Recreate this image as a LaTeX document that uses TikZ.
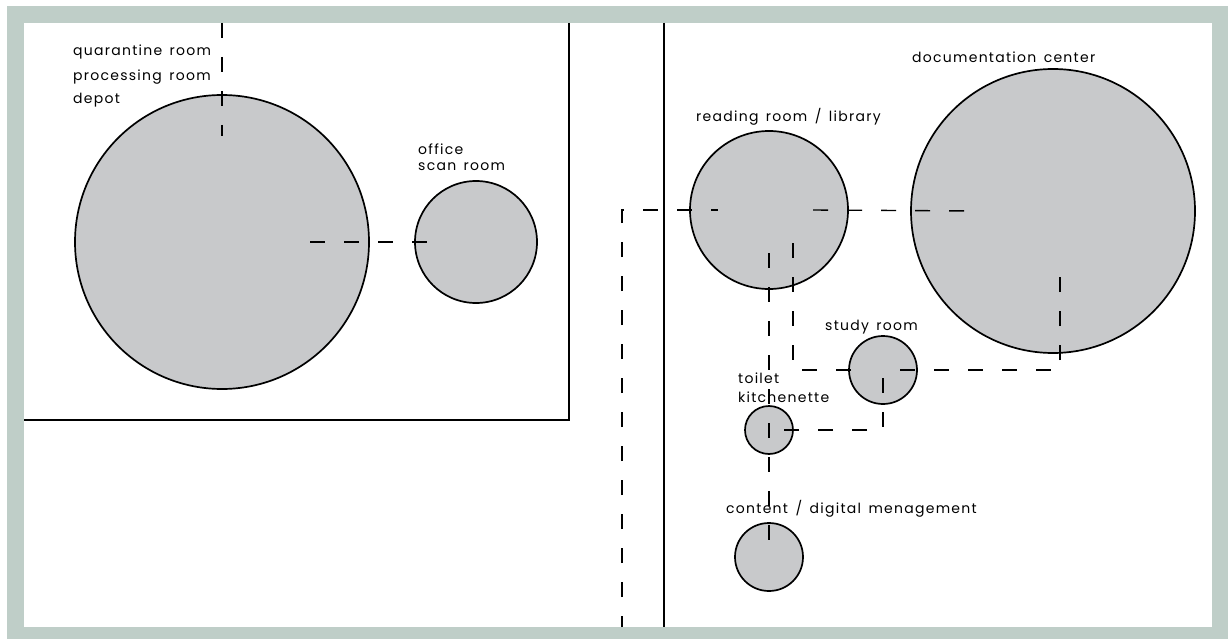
\documentclass[tikz,border=0pt]{standalone}
\usepackage{fontspec}
\usepackage{tikz}
\usetikzlibrary{positioning}
\newfontfamily\planfont{Poppins}[LetterSpace=9, WordSpace=1.5]
\definecolor{framegreen}{RGB}{191,206,200}
\definecolor{roomgrey}{RGB}{200,201,203}

\begin{document}
\begin{tikzpicture}[x=1pt, y=-1pt,
    room/.style={circle, draw, line width=1.7pt, fill=roomgrey, inner sep=0pt},
    link/.style={line width=1.4pt, dash pattern=on 15pt off 19pt},
    wall/.style={line width=1.2pt},
    roomlabel/.style={font=\planfont\fontsize{14}{16}\selectfont, inner sep=0pt, align=left}]
            \useasboundingbox (0,0) rectangle (1228,639);
            \fill[white] (0,0) rectangle (1228,639);

            % Frame
            \fill[framegreen] (7,6) rectangle (1228,639);
            \fill[white] (24,23) rectangle (1212,627);

            % Walls
            \draw[wall] (569,23) -- (569,420) -- (24,420);
            \draw[wall] (664,23) -- (664,627);

            % Rooms
            \node[room, minimum size=294pt] (depot) at (222,242) {};
            \node[room, minimum size=122pt] (office) at (476,242) {};
            \node[room, minimum size=158pt] (reading) at (769,210) {};
            \node[room, minimum size=284pt] (docu) at (1053,211) {};
            \node[room, minimum size=68pt] (study) at (883,370) {};
            \node[room, minimum size=48pt] (toilet) at (769,430) {};
            \node[room, minimum size=68pt] (content) at (769,557) {};

            % Connections
            \coordinate (topend) at (222,23);
            \coordinate (bottomend) at (622,627);
            \draw[link] (topend) -- ([yshift=106pt]depot.center);
            \draw[link] ([xshift=88pt]depot.center) -- ([xshift=-43pt]office.center);
            \draw[link, dash phase=4pt] (bottomend) |- ([xshift=-51pt]reading.center);
            \draw[link] ([xshift=44pt]reading.center) -- ([xshift=-76pt]docu.center);
            \draw[link] ([yshift=-43pt]reading.center) -- ([yshift=12pt]content.center);
            \draw[link] ([xshift=24pt,yshift=-33pt]reading.center) |- ([xshift=-28pt]study.center);
            \draw[link] ([xshift=17pt]study.center) -| ([xshift=7pt,yshift=-53pt]docu.center);
            \draw[link] ([yshift=-8pt]study.center) |- ([xshift=13pt]toilet.center);

            % Labels
            \node[roomlabel, anchor=base west] (depotname) at (73,56) {quarantine room};
            \node[roomlabel, anchor=base west] (procname) at (73,81) {processing room};
            \node[roomlabel, anchor=base west] (storename) at (73,104) {depot};
            \node[roomlabel, anchor=base west] (officename) at (418,155) {office};
            \node[roomlabel, anchor=base west] (scanname) at (418,171) {scan room};
            \node[roomlabel, anchor=base west] (readingname) at (696,122) {reading room / library};
            \node[roomlabel, anchor=base west] (docuname) at (912,63) {documentation center};
            \node[roomlabel, anchor=base west] (studyname) at (825,330) {study room};
            \node[roomlabel, anchor=base west] (toiletname) at (738,383) {toilet};
            \node[roomlabel, anchor=base west] (kitchenname) at (738,402) {kitchenette};
            \node[roomlabel, anchor=base west] (contentname) at (726,513) {content / digital menagement};
\end{tikzpicture}
\end{document}
